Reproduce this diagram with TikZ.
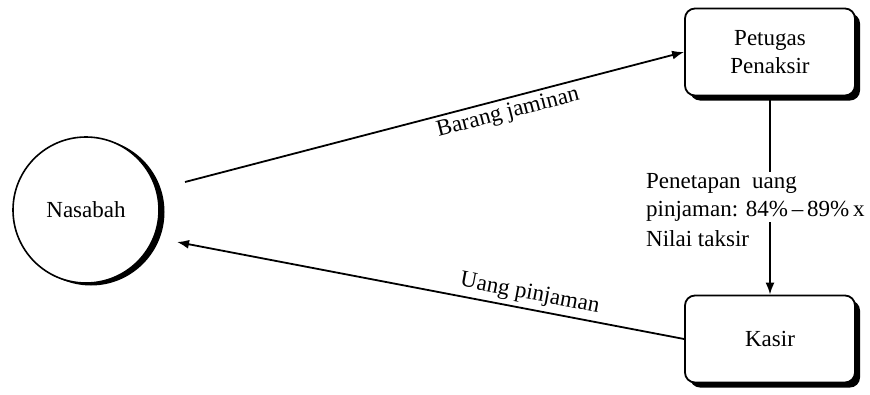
\documentclass[tikz,border=0pt]{standalone}
\usepackage{fontspec}
\setmainfont{Liberation Serif}
\usetikzlibrary{arrows.meta}
\begin{document}
\begin{tikzpicture}[x=1pt,y=-1pt,
  lbl/.style={font=\fontsize{23}{28}\selectfont},
  boxnode/.style={draw=black,line width=1.8pt,fill=white,rounded corners=10pt,
    minimum width=170pt,minimum height=87pt,align=center,lbl},
  boxshadow/.style={fill=black,rounded corners=10pt,minimum width=170pt,minimum height=87pt,inner sep=0pt},
  circnode/.style={circle,draw=black,line width=1.6pt,fill=white,minimum size=146pt,inner sep=0pt,lbl},
  conn/.style={line width=1.8pt,-{Latex[length=12pt,width=9pt]}}
]
\useasboundingbox (0,0) rectangle (870,394);
% shadows
\fill[black] (91,212) circle (73.5pt);
\node[boxshadow] (pets) at (775,57) {};
\node[boxshadow] (kass) at (775,344) {};
% nodes
\node[circnode] (nas) at (86,210) {Nasabah};
\node[boxnode] (pet) at (770,52) {Petugas\\Penaksir};
\node[boxnode] (kas) at (770,339) {Kasir};
% free ends
\coordinate (a1) at (185,182);
\coordinate (b1) at (177,242);
% connectors
\draw[conn] (a1) -- (pet.west)
  node[pos=0.64,below,sloped,lbl,inner sep=4pt] (l1) {Barang jaminan};
\draw[conn] (kas.west) -- (b1)
  node[pos=0.31,above,sloped,lbl,inner sep=4pt] (l2) {Uang pinjaman};
\draw[conn] (pet.south) -- (kas.north);
\node[lbl,fill=white,anchor=north west,align=left,inner sep=1pt] (l3) at (645,172)
  {Penetapan\ \ uang\\pinjaman: 84\%\,–\,89\%\,x};
\node[lbl,anchor=north west,inner sep=1pt] (l4) at (645,229) {Nilai taksir};
\end{tikzpicture}
\end{document}
